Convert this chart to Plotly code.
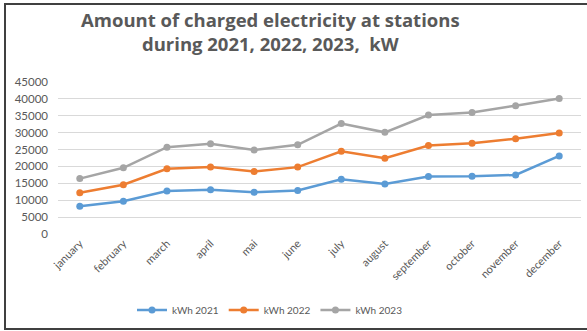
import plotly.graph_objects as go

months = ["january", "february", "march", "april", "mai", "june", "july",
          "august", "september", "october", "november", "december"]
kwh_2021 = [8200, 9700, 12700, 13100, 12350, 12900, 16200, 14800, 17050, 17100, 17500, 23100]
kwh_2022 = [12200, 14600, 19300, 19800, 18500, 19800, 24500, 22450, 26200, 26900, 28200, 29900]
kwh_2023 = [16400, 19600, 25700, 26700, 24900, 26400, 32700, 30100, 35200, 36000, 38000, 40100]
series_names = ["kWh 2021", "kWh 2022", "kWh 2023"]
colors = ["#5b9bd5", "#ed7d31", "#a5a5a5"]

W, H = 587, 331
ml, mr, mt, mb = 58, 6, 82, 97
pw = W - ml - mr
ph = H - mt - mb

def px_x(px):
    return (px - ml) / pw

def px_y(py):
    return (H - mb - py) / ph

fig = go.Figure()
for name, vals, c in zip(series_names, [kwh_2021, kwh_2022, kwh_2023], colors):
    fig.add_trace(go.Scatter(x=months, y=vals, name=name, mode="lines+markers",
                             line=dict(color=c, width=2.5),
                             marker=dict(color=c, size=7)))

font_fam = "Lato, Open Sans, sans-serif"
fig.update_layout(
    width=W, height=H,
    margin=dict(l=ml, r=mr, t=mt, b=mb, autoexpand=False),
    paper_bgcolor="white", plot_bgcolor="white",
    font=dict(family=font_fam, color="#595959", size=10),
    showlegend=True,
    legend=dict(orientation="h", x=px_x(270), xanchor="center",
                y=px_y(310), yanchor="middle",
                font=dict(size=10, color="#595959"), itemwidth=30,
                bgcolor="rgba(0,0,0,0)"),
    xaxis=dict(tickangle=-45, showgrid=False, zeroline=False, showline=False,
               range=[-0.5, len(months) - 0.5], autorange=False,
               ticks="", automargin=False, tickfont=dict(size=11, color="#595959")),
    yaxis=dict(range=[0, 45000], dtick=5000, tickformat="d", showgrid=True,
               gridcolor="#d9d9d9", automargin=False,
               gridwidth=1, zeroline=False, showline=False, ticks="",
               tickfont=dict(size=11.5, color="#595959"), ticklabelstandoff=9),
    annotations=[dict(text="<b>Amount of charged electricity at stations<br>during 2021, 2022, 2023,  kW</b>",
                      xref="paper", yref="paper", x=px_x(270), y=px_y(31),
                      xanchor="center", yanchor="middle", showarrow=False,
                      font=dict(size=18.5, color="#595959", family="Open Sans, sans-serif"))],
    shapes=[dict(type="rect", xref="paper", yref="paper",
                 x0=px_x(5), x1=px_x(592), y0=px_y(329), y1=px_y(4),
                 line=dict(color="#404040", width=2), fillcolor="rgba(0,0,0,0)",
                 layer="below")],
)

fig.write_html("out.html")
